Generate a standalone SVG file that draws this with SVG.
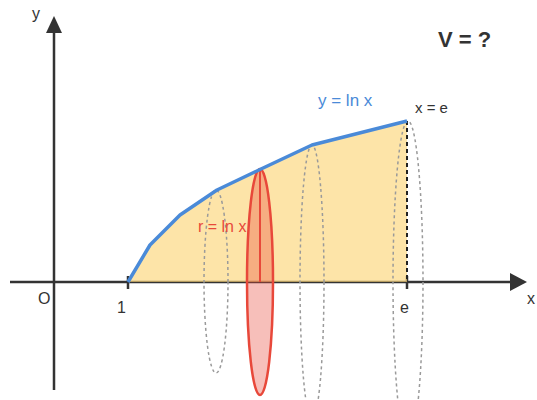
<svg xmlns="http://www.w3.org/2000/svg" width="537" height="400" viewBox="0 0 537 400">
<defs>
<style>
.ax{stroke:#333;stroke-width:2.5;fill:none}
.ah{fill:#333}
.dot{fill:none;stroke:#9a9a9a;stroke-width:1.5;stroke-dasharray:3 3}
.t{font-family:"Liberation Sans",Arial,sans-serif;font-size:16px;fill:#333}
</style>
</defs>
<rect width="537" height="400" fill="#fff"/>
<g id="axes">
<line class="ax" x1="54" y1="390" x2="54" y2="30"/>
<polygon class="ah" points="54,16 46,33 62,33"/>
<line class="ax" x1="10" y1="282" x2="512" y2="282"/>
<polygon class="ah" points="527,282 510,273 510,291"/>
<line class="ax" x1="128" y1="276" x2="128" y2="289"/>
<line class="ax" x1="407" y1="276" x2="407" y2="289"/>
</g>
<g id="region">
<polygon points="128,282 150,245 180,215 217,190 261,169 312,145 407,121 407,282" fill="#fcd679" fill-opacity="0.65"/>
</g>
<g id="dotted-ellipses">
<ellipse class="dot" cx="216" cy="281.5" rx="12" ry="91.5"/>
<ellipse class="dot" cx="312" cy="282" rx="12" ry="137"/>
<ellipse class="dot" cx="408" cy="282" rx="15" ry="161"/>
</g>
<g id="boundary">
<line x1="407" y1="121" x2="407" y2="282" stroke="#222" stroke-width="2" stroke-dasharray="4 3"/>
</g>
<g id="disc">
<ellipse cx="260" cy="282" rx="13" ry="113" fill="#e8483a" fill-opacity="0.35" stroke="#e8483a" stroke-width="2.5"/>
<line x1="260" y1="169" x2="260" y2="282" stroke="#e8483a" stroke-width="2"/>
</g>
<g id="curve">
<polyline points="128,282 150,245 180,215 217,190 261,169 312,145 407,121" fill="none" stroke="#4a8ad8" stroke-width="3.5" stroke-linejoin="round"/>
</g>
<g id="labels">
<text class="t" x="32" y="19">y</text>
<text class="t" x="38" y="304">O</text>
<text class="t" x="117" y="313">1</text>
<text class="t" x="400" y="313">e</text>
<text class="t" x="527" y="304">x</text>
<text class="t" x="415" y="113" style="font-size:15px">x = e</text>
<text class="t" x="318" y="106" style="fill:#4a8ad8;font-size:17px">y = ln x</text>
<text class="t" x="198" y="232" style="fill:#e8483a">r = ln x</text>
<text class="t" x="438" y="47" style="font-size:22px;font-weight:bold">V = ?</text>
</g>
</svg>
